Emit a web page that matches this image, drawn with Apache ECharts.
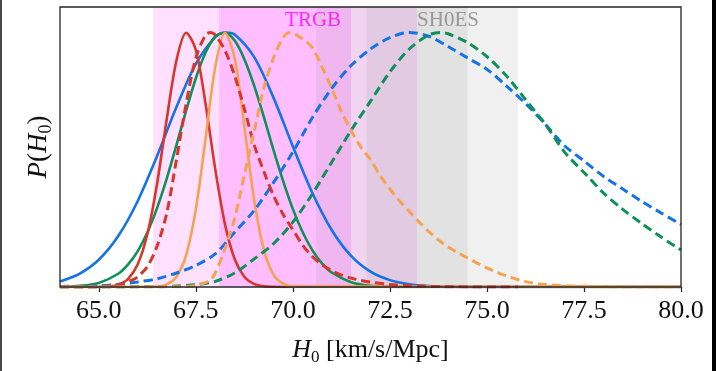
<!DOCTYPE html>
<html>
<head>
<meta charset="utf-8">
<script src="https://cdn.jsdelivr.net/npm/echarts@6/dist/echarts.min.js"></script>
<style>
  html, body { margin: 0; padding: 0; background: #fff; }
  #chart { width: 716px; height: 371px; }
</style>
</head>
<body>
<div id="chart"></div>
<script>
// Normalised posteriors P(H0), each peaking at 1.
const blueSolidH = [64, 64.5, 65, 65.5, 66, 66.5, 67, 67.5, 68, 68.25, 68.5, 69, 69.5, 70, 70.5, 71, 71.5, 72, 72.5, 73, 73.5, 74, 75, 80];
const blueSolidP = [0.022, 0.052, 0.107, 0.200, 0.337, 0.514, 0.707, 0.877, 0.982, 1.0, 0.992, 0.904, 0.744, 0.552, 0.370, 0.224, 0.122, 0.060, 0.027, 0.011, 0.004, 0.001, 0, 0];

const greenSolidH = [64, 64.5, 65, 65.5, 65.75, 66, 66.25, 66.5, 66.75, 67, 67.25, 67.5, 67.75, 68, 68.25, 68.5, 68.75, 69, 69.25, 69.5, 69.75, 70, 70.25, 70.5, 70.75, 71, 71.5, 72, 72.5, 73, 80];
const greenSolidP = [0.001, 0.004, 0.016, 0.052, 0.088, 0.140, 0.214, 0.310, 0.426, 0.557, 0.693, 0.820, 0.921, 0.984, 0.999, 0.968, 0.895, 0.792, 0.669, 0.539, 0.416, 0.306, 0.216, 0.145, 0.093, 0.057, 0.019, 0.005, 0.001, 0, 0];

const redSolidH = [64, 65, 65.25, 65.5, 65.75, 66, 66.25, 66.5, 66.75, 67, 67.25, 67.5, 67.75, 68, 68.25, 68.5, 68.75, 69, 69.25, 69.5, 70, 80];
const redSolidP = [0, 0.0004, 0.002, 0.009, 0.031, 0.088, 0.207, 0.405, 0.659, 0.890, 0.999, 0.931, 0.720, 0.463, 0.247, 0.110, 0.040, 0.012, 0.003, 0.001, 0, 0];

const orangeSolidH = [64, 66.5, 66.75, 67, 67.25, 67.5, 67.75, 68, 68.25, 68.5, 68.75, 69, 69.25, 69.5, 69.75, 70, 80];
const orangeSolidP = [0, 0.002, 0.010, 0.040, 0.125, 0.306, 0.582, 0.864, 0.999, 0.900, 0.631, 0.345, 0.147, 0.049, 0.013, 0.003, 0];

const blueDashH = [64, 65, 65.5, 66, 66.5, 67, 67.5, 68, 68.5, 69, 69.5, 70, 70.5, 71, 71.5, 72, 72.5, 73, 73.5, 74, 74.5, 75, 75.5, 76, 76.5, 77, 77.5, 78, 78.5, 79, 79.5, 80];
const blueDashP = [0.002, 0.005, 0.011, 0.02, 0.032, 0.055, 0.085, 0.13, 0.215, 0.30, 0.41, 0.53, 0.665, 0.78, 0.87, 0.935, 0.98, 1.0, 0.985, 0.945, 0.90, 0.855, 0.79, 0.72, 0.64, 0.555, 0.495, 0.435, 0.385, 0.335, 0.29, 0.245];

const greenDashH = [64, 66.5, 67, 67.5, 68, 68.5, 69, 69.5, 70, 70.5, 71, 71.5, 72, 72.5, 73, 73.5, 73.8, 74, 74.5, 75, 75.5, 76, 76.5, 77, 77.5, 78, 78.5, 79, 79.5, 80];
const greenDashP = [0, 0.001, 0.004, 0.009, 0.022, 0.055, 0.11, 0.17, 0.255, 0.365, 0.49, 0.615, 0.73, 0.845, 0.935, 0.99, 1.0, 0.995, 0.96, 0.905, 0.83, 0.735, 0.64, 0.53, 0.45, 0.37, 0.305, 0.248, 0.195, 0.145];

const redDashH = [64, 65, 65.5, 65.85, 66, 66.25, 66.5, 66.75, 67, 67.25, 67.5, 67.75, 67.88, 68, 68.25, 68.5, 68.75, 69, 69.25, 69.5, 69.75, 70, 70.25, 70.5, 70.75, 71, 71.25, 71.5, 71.75, 72, 72.5, 73, 74, 75.8];
const redDashP = [0, 0.001, 0.008, 0.027, 0.04, 0.08, 0.16, 0.29, 0.50, 0.72, 0.90, 0.99, 1.0, 0.99, 0.93, 0.83, 0.70, 0.56, 0.455, 0.36, 0.285, 0.225, 0.165, 0.12, 0.088, 0.064, 0.047, 0.035, 0.026, 0.019, 0.01, 0.005, 0.001, 0];

const orangeDashH = [64, 67, 67.5, 67.86, 68, 68.25, 68.5, 68.75, 69, 69.25, 69.5, 69.75, 69.92, 70.25, 70.5, 70.75, 71, 71.25, 71.5, 71.75, 72, 72.25, 72.5, 72.75, 73, 73.25, 73.5, 73.75, 74, 74.25, 74.5, 74.75, 75, 75.25, 75.5, 76, 76.5, 77, 77.5, 78, 79, 80];
const orangeDashP = [0, 0.001, 0.006, 0.026, 0.055, 0.15, 0.27, 0.44, 0.61, 0.78, 0.90, 0.98, 1.0, 0.975, 0.94, 0.865, 0.78, 0.69, 0.615, 0.55, 0.50, 0.437, 0.385, 0.338, 0.297, 0.256, 0.218, 0.185, 0.157, 0.135, 0.114, 0.094, 0.075, 0.058, 0.044, 0.021, 0.01, 0.005, 0.003, 0.001, 0, 0];

// Local measurements: 1σ and 2σ bands
const trgbInner = [68.1, 71.5];
const trgbOuter = [66.4, 73.2];
const shoesInner = [71.9, 74.5];
const shoesOuter = [70.6, 75.8];
const bandLabels = [
  { text: 'TRGB', at: 69.8, color: '#ff00ff' },
  { text: 'SH0ES', at: 73.2, color: '#858585' }
];

const xTicks = [65, 67.5, 70, 72.5, 75, 77.5, 80];

const COLORS = { red: '#d9352a', blue: '#1473e6', green: '#0f8f5a', orange: '#f5a352' };
const SERIF = '"Liberation Serif", "DejaVu Serif", serif';

const pairs = (xs, ys) => xs.map((x, i) => [x, ys[i]]);

function curve(name, xs, ys, color, dashed, z) {
  return {
    name, type: 'line', data: pairs(xs, ys), showSymbol: false, symbol: 'none',
    smooth: 0.3, z, silent: true,
    lineStyle: dashed ? { color, width: 3, type: [9, 5], cap: 'butt' } : { color, width: 2.6 }
  };
}

const band = (r, color) => [{ xAxis: r[0], itemStyle: { color } }, { xAxis: r[1] }];

const chart = echarts.init(document.getElementById('chart'), null, { renderer: 'canvas' });

chart.setOption({
  backgroundColor: '#ffffff',
  animation: false,
  grid: { left: 60, right: 35, top: 7, bottom: 81, show: true, borderColor: '#262626', borderWidth: 1.3, backgroundColor: 'transparent', z: 10 },
  xAxis: {
    type: 'value', min: 64, max: 80,
    axisLine: { show: false },
    splitLine: { show: false },
    axisTick: { show: true, inside: false, length: 5, customValues: xTicks, lineStyle: { color: '#262626', width: 1.2 } },
    axisLabel: { customValues: xTicks, formatter: v => v.toFixed(1), fontFamily: SERIF, fontSize: 26, color: '#111', margin: 11 },
    name: '{it|H}{sub|0}{n| [km/s/Mpc]}',
    nameLocation: 'middle', nameGap: 50,
    nameTextStyle: {
      rich: {
        it: { fontFamily: SERIF, fontStyle: 'italic', fontSize: 26, color: '#111', lineHeight: 26, verticalAlign: 'top' },
        sub: { fontFamily: SERIF, fontSize: 17, color: '#111', lineHeight: 17, padding: [12, 0, 0, 0], verticalAlign: 'top' },
        n: { fontFamily: SERIF, fontSize: 26, color: '#111', lineHeight: 26, verticalAlign: 'top' }
      }
    }
  },
  yAxis: {
    type: 'value', min: 0, max: 1.1,
    axisLine: { show: false }, axisTick: { show: false }, axisLabel: { show: false }, splitLine: { show: false },
    name: '{it|P}{n|(}{it|H}{sub|0}{n|)}',
    nameLocation: 'middle', nameGap: 8, nameRotate: 90,
    nameTextStyle: {
      rich: {
        it: { fontFamily: SERIF, fontStyle: 'italic', fontSize: 27, color: '#111', lineHeight: 27, verticalAlign: 'top' },
        sub: { fontFamily: SERIF, fontSize: 18, color: '#111', lineHeight: 18, padding: [12, 0, 0, 0], verticalAlign: 'top' },
        n: { fontFamily: SERIF, fontSize: 27, color: '#111', lineHeight: 27, verticalAlign: 'top' }
      }
    }
  },
  series: [
    {
      name: 'bands', type: 'line', data: [], z: 1, silent: true,
      markArea: {
        silent: true,
        data: [
          band(trgbOuter, 'rgba(255,0,255,0.12)'),
          band(trgbInner, 'rgba(255,0,255,0.15)'),
          band(shoesOuter, 'rgba(128,128,128,0.12)'),
          band(shoesInner, 'rgba(128,128,128,0.12)')
        ]
      }
    },
    {
      name: 'labels', type: 'scatter', symbolSize: 0, z: 3, silent: true,
      data: bandLabels.map(b => ({
        value: [b.at, 1.047],
        label: { show: true, formatter: b.text, position: 'right', distance: 0, color: b.color, fontFamily: SERIF, fontSize: 21 }
      }))
    },
    curve('blueSolid', blueSolidH, blueSolidP, COLORS.blue, false, 4),
    curve('greenSolid', greenSolidH, greenSolidP, COLORS.green, false, 4),
    curve('redSolid', redSolidH, redSolidP, COLORS.red, false, 4),
    curve('orangeSolid', orangeSolidH, orangeSolidP, COLORS.orange, false, 4),
    curve('blueDash', blueDashH, blueDashP, COLORS.blue, true, 5),
    curve('greenDash', greenDashH, greenDashP, COLORS.green, true, 5),
    curve('redDash', redDashH, redDashP, COLORS.red, true, 5),
    curve('orangeDash', orangeDashH, orangeDashP, COLORS.orange, true, 5)
  ],
  graphic: [
    { type: 'rect', left: 0, top: 0, shape: { width: 2, height: 371 }, style: { fill: '#4a4a4a' }, silent: true },
    { type: 'rect', right: 0, top: 0, shape: { width: 4, height: 371 }, style: { fill: '#000' }, silent: true }
  ]
});
</script>
</body>
</html>
